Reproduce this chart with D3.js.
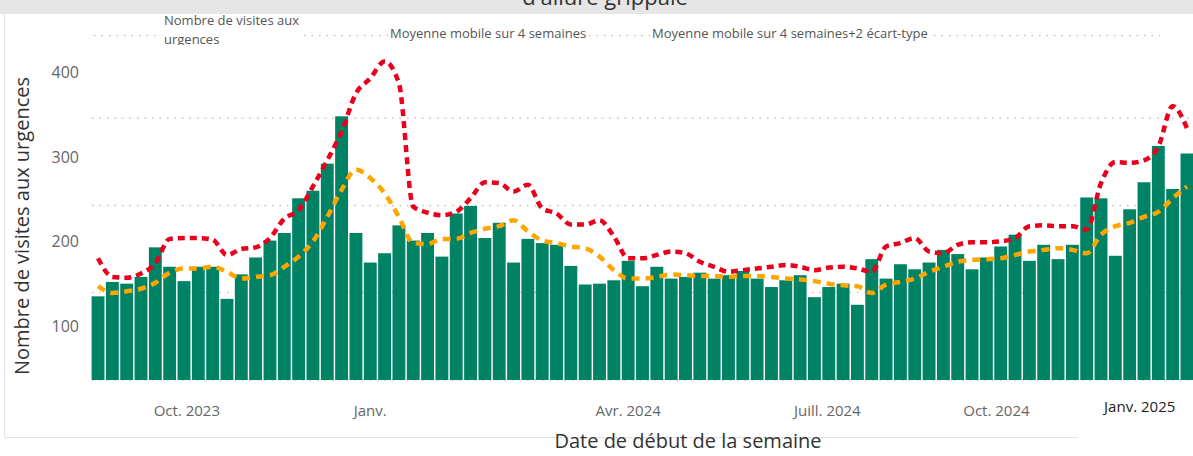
<!DOCTYPE html>
<html>
<head>
<meta charset="utf-8">
<script src="https://cdn.jsdelivr.net/npm/d3@7"></script>
<style>
  body { margin: 0; background: #fff; }
  svg { display: block; font-family: "Open Sans", "Noto Sans", sans-serif; }
</style>
</head>
<body>
<svg id="chart" width="1193" height="456"></svg>
<script>
// weekly categories, Monday start
var weeks = d3.timeMonday.range(new Date(2023, 7, 21), new Date(2025, 1, 10));

// weekly ER visits (bars)
var visits = [135, 152, 150, 158, 193, 170, 153, 170, 170, 132,
  161, 181, 201, 210, 251, 260, 292, 348, 210, 175,
  186, 219, 201, 210, 182, 233, 242, 204, 222, 175,
  203, 198, 196, 171, 149, 150, 154, 177, 147, 170,
  156, 158, 163, 156, 160, 165, 156, 146, 154, 160,
  134, 146, 150, 125, 179, 156, 173, 167, 175, 190,
  185, 167, 181, 194, 208, 177, 196, 179, 196, 252,
  251, 183, 238, 270, 313, 262, 304];

// 4 week moving average (orange)
var movAvg = [147, 139, 141, 144, 151, 163, 168, 168, 170, 164,
  156, 158, 160, 170, 182, 200, 229, 261, 285, 275,
  257, 229, 198, 197, 203, 203, 210, 215, 218, 225,
  212, 201, 198, 194, 192, 182, 166, 156, 156, 158,
  161, 160, 159, 159, 158, 159, 159, 158, 156, 155,
  153, 150, 148, 147, 139, 149, 152, 156, 164, 170,
  176, 178, 179, 180, 184, 188, 190, 192, 190, 186,
  208, 218, 222, 229, 235, 251, 265];

// moving average + 2 sd (red)
var movAvgSd = [180, 158, 157, 162, 174, 203, 204, 204, 202, 184,
  191, 193, 204, 227, 237, 265, 296, 330, 375, 393,
  413, 387, 241, 234, 231, 235, 251, 270, 269, 259,
  267, 239, 233, 220, 220, 225, 206, 180, 180, 184,
  188, 186, 176, 170, 164, 166, 168, 170, 172, 170,
  166, 169, 170, 168, 164, 194, 198, 204, 188, 186,
  196, 199, 199, 200, 204, 218, 219, 218, 218, 214,
  269, 294, 293, 296, 312, 360, 334];

var yTicks = [100, 200, 300, 400];
var gridValues = [36, 139.5, 242.5, 345.8];

var tickLabels = ["Oct. 2023", "Janv.", "Avr. 2024", "Juill. 2024", "Oct. 2024", "Janv. 2025"];
var tickWeek = [6.2, 19, 37, 50.9, 62.7, 72.7];

var legendItems = [["Nombre de visites aux", "urgences"], ["Moyenne mobile sur 4 semaines"], ["Moyenne mobile sur 4 semaines+2 écart-type"]];

var svg = d3.select("#chart");

var x = d3.scaleBand()
    .domain(d3.range(weeks.length))
    .range([91, 1194])
    .paddingInner(0.1)
    .paddingOuter(0.04);

// axis does not start at zero
var y = d3.scaleLinear()
    .domain([36, 400])
    .range([380, 72.4]);

// frame
svg.append("rect").attr("x", 0).attr("y", 0).attr("width", 1193).attr("height", 14).attr("fill", "#e6e6e6");
svg.append("line").attr("x1", 4.5).attr("x2", 4.5).attr("y1", 14).attr("y2", 437.5).attr("stroke", "#e3e3e3");
svg.append("line").attr("x1", 4.5).attr("x2", 1078).attr("y1", 437.5).attr("y2", 437.5).attr("stroke", "#e3e3e3");

svg.append("text")
    .attr("x", 605).attr("y", 5)
    .attr("text-anchor", "middle")
    .attr("font-size", 22).attr("fill", "#333")
    .text("d'allure grippale");

// gridlines
svg.append("g").selectAll("line")
    .data(gridValues)
    .enter().append("line")
    .attr("x1", 92).attr("x2", 1193)
    .attr("y1", function(d) { return y(d); })
    .attr("y2", function(d) { return y(d); })
    .attr("stroke", "#c4c4c4")
    .attr("stroke-width", 1.5)
    .attr("stroke-dasharray", "1.5,6");

// legend row (dotted rule behind the labels)
var legend = svg.append("g");
legend.append("line")
    .attr("x1", 94).attr("x2", 1160).attr("y1", 35.5).attr("y2", 35.5)
    .attr("stroke", "#c4c4c4").attr("stroke-width", 1.5).attr("stroke-dasharray", "1.5,6");
svg.append("clipPath").attr("id", "legclip").append("rect")
    .attr("x", 0).attr("y", 14).attr("width", 1193).attr("height", 31);
var legX = [164, 390, 652];
legendItems.forEach(function(lines, i) {
    var g = legend.append("g").attr("clip-path", "url(#legclip)");
    var t = g.append("text").attr("font-size", 13).attr("fill", "#555");
    lines.forEach(function(s, j) {
        t.append("tspan").attr("x", legX[i]).attr("y", lines.length > 1 ? 25 + j * 19 : 38).text(s);
    });
    var bb = t.node().getBBox();
    g.insert("rect", "text")
        .attr("x", bb.x - 2).attr("y", 30).attr("width", bb.width + 4).attr("height", 11)
        .attr("fill", "#fff");
});

// bars
svg.append("g").selectAll("rect")
    .data(visits)
    .enter().append("rect")
    .attr("x", function(d, i) { return x(i); })
    .attr("y", function(d) { return y(d); })
    .attr("width", x.bandwidth())
    .attr("height", function(d) { return y(36) - y(d); })
    .attr("fill", "#008264");

var line = d3.line()
    .x(function(d, i) { return x(i) + x.bandwidth() / 2; })
    .y(function(d) { return y(d); })
    .curve(d3.curveMonotoneX);

svg.append("path")
    .datum(movAvg)
    .attr("d", line)
    .attr("fill", "none")
    .attr("stroke", "#ffa500")
    .attr("stroke-width", 4.5)
    .attr("stroke-dasharray", "8,6");

svg.append("path")
    .datum(movAvgSd)
    .attr("d", line)
    .attr("fill", "none")
    .attr("stroke", "#e8001c")
    .attr("stroke-width", 4.5)
    .attr("stroke-dasharray", "7,5");

// y axis labels
svg.append("g").selectAll("text")
    .data(yTicks)
    .enter().append("text")
    .attr("x", 79)
    .attr("y", function(d) { return y(d); })
    .attr("dy", "0.35em")
    .attr("text-anchor", "end")
    .attr("font-size", 16)
    .attr("fill", "#666")
    .text(function(d) { return d; });

// x axis labels
svg.append("g").selectAll("text")
    .data(tickLabels)
    .enter().append("text")
    .attr("x", function(d, i) { return x(0) + x.bandwidth() / 2 + tickWeek[i] * x.step(); })
    .attr("y", function(d, i) { return i === tickLabels.length - 1 ? 412 : 416; })
    .attr("text-anchor", "middle")
    .attr("font-size", 15)
    .attr("fill", function(d, i) { return i === tickLabels.length - 1 ? "#222" : "#666"; })
    .text(function(d) { return d; });

// axis titles
svg.append("text")
    .attr("transform", "translate(29,226) rotate(-90)")
    .attr("text-anchor", "middle")
    .attr("font-size", 20)
    .attr("fill", "#333")
    .text("Nombre de visites aux urgences");

svg.append("text")
    .attr("x", 688).attr("y", 448)
    .attr("text-anchor", "middle")
    .attr("font-size", 20)
    .attr("fill", "#333")
    .text("Date de début de la semaine");
</script>
</body>
</html>
